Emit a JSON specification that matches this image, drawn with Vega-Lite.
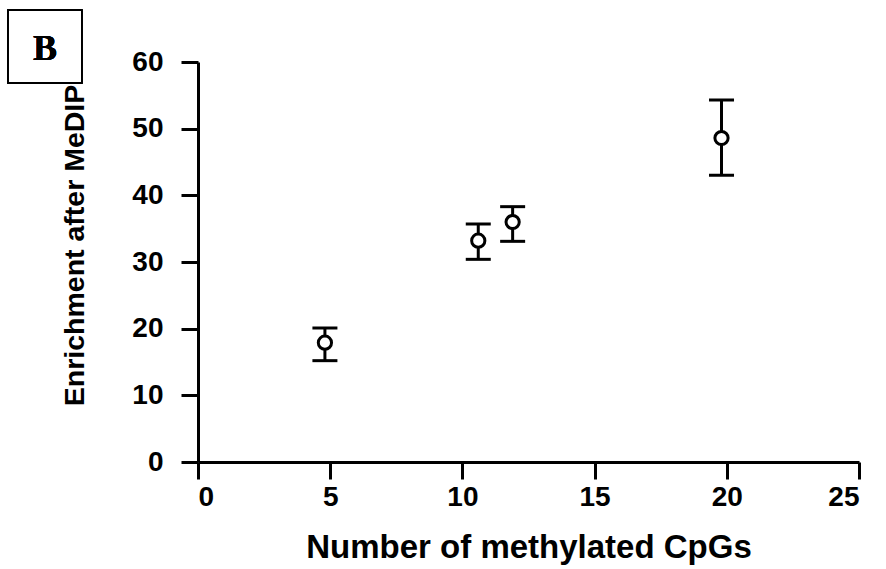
{
  "$schema": "https://vega.github.io/schema/vega-lite/v6.json",
  "width": 661,
  "height": 400,
  "autosize": {"type": "none"},
  "padding": {"left": 198, "top": 62, "right": 27, "bottom": 107},
  "background": "white",
  "config": {
    "view": {"stroke": null},
    "axis": {
      "domainColor": "black",
      "domainWidth": 3,
      "tickColor": "black",
      "tickWidth": 3,
      "tickSize": 17,
      "grid": false,
      "labelFont": "Liberation Sans",
      "labelFontSize": 28,
      "labelFontWeight": "bold",
      "labelColor": "black",
      "titleFont": "Liberation Sans",
      "titleFontWeight": "bold",
      "titleColor": "black"
    }
  },
  "data": {
    "values": [
      {"cpgs": 4.8, "enrichment": 17.9, "low": 15.2, "high": 20.1},
      {"cpgs": 10.6, "enrichment": 33.2, "low": 30.4, "high": 35.7},
      {"cpgs": 11.9, "enrichment": 36.0, "low": 33.1, "high": 38.3},
      {"cpgs": 19.8, "enrichment": 48.6, "low": 43.0, "high": 54.3}
    ]
  },
  "layer": [
    {
      "mark": {"type": "rule", "strokeWidth": 3, "color": "black"},
      "encoding": {
        "x": {
          "field": "cpgs", "type": "quantitative",
          "scale": {"domain": [0, 25], "nice": false, "zero": false},
          "axis": {"values": [0, 5, 10, 15, 20, 25], "title": "Number of methylated CpGs", "titleFontSize": 33, "labelPadding": 4, "titlePadding": 20}
        },
        "y": {
          "field": "low", "type": "quantitative",
          "scale": {"domain": [0, 60], "nice": false, "zero": false},
          "axis": {"values": [0, 10, 20, 30, 40, 50, 60], "title": "Enrichment after MeDIP", "titleFontSize": 28.5, "titleY": 183, "labelPadding": 18, "titlePadding": 42}
        },
        "y2": {"field": "high"}
      }
    },
    {
      "mark": {"type": "tick", "thickness": 3, "size": 25, "orient": "horizontal", "color": "black", "opacity": 1},
      "encoding": {
        "x": {"field": "cpgs", "type": "quantitative"},
        "y": {"field": "low", "type": "quantitative"}
      }
    },
    {
      "mark": {"type": "tick", "thickness": 3, "size": 25, "orient": "horizontal", "color": "black", "opacity": 1},
      "encoding": {
        "x": {"field": "cpgs", "type": "quantitative"},
        "y": {"field": "high", "type": "quantitative"}
      }
    },
    {
      "mark": {"type": "point", "shape": "circle", "size": 175, "filled": true, "fill": "white", "stroke": "black", "strokeWidth": 3, "opacity": 1},
      "encoding": {
        "x": {"field": "cpgs", "type": "quantitative"},
        "y": {"field": "enrichment", "type": "quantitative"}
      }
    },
    {
      "mark": {"type": "rect", "fill": "transparent", "stroke": "black", "strokeWidth": 1.5},
      "encoding": {
        "x": {"datum": -7.19, "type": "quantitative"},
        "x2": {"datum": -4.39},
        "y": {"datum": 67.8, "type": "quantitative"},
        "y2": {"datum": 56.85}
      }
    },
    {
      "mark": {"type": "text", "text": "B", "font": "Liberation Serif", "fontWeight": "bold", "fontSize": 36, "align": "center", "baseline": "middle", "color": "black"},
      "encoding": {
        "x": {"datum": -5.79, "type": "quantitative"},
        "y": {"datum": 62.0, "type": "quantitative"}
      }
    }
  ]
}
